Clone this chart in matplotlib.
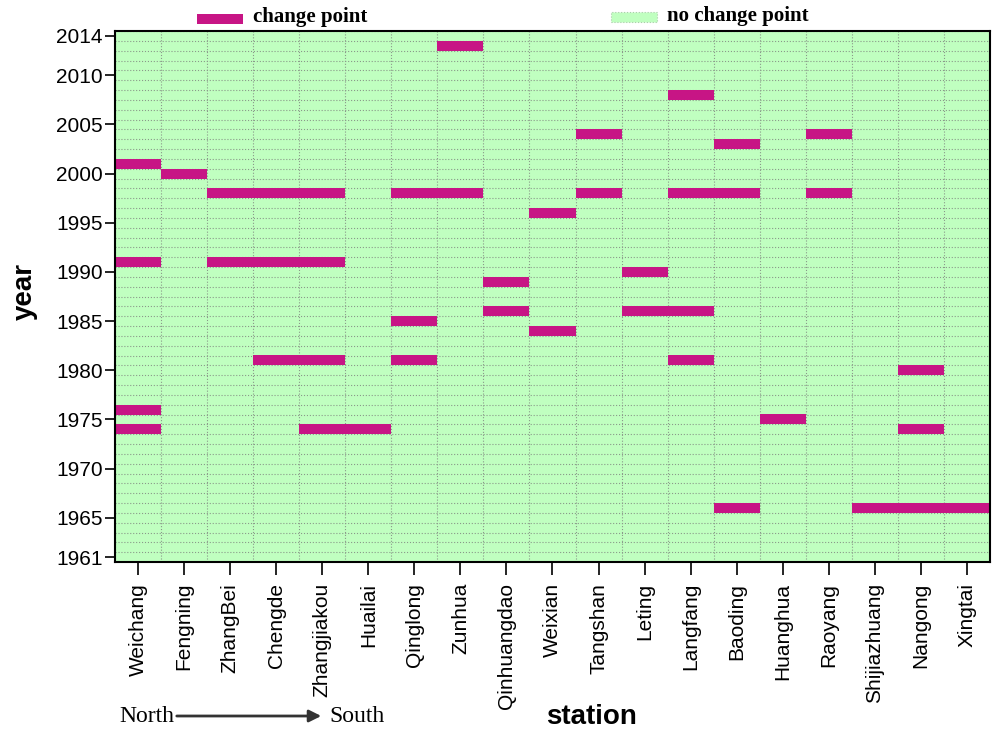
import numpy as np
import matplotlib
matplotlib.use("Agg")
import matplotlib.pyplot as plt
from matplotlib.patches import Rectangle

# stations ordered north -> south
stations = ['Weichang', 'Fengning', 'ZhangBei', 'Chengde', 'Zhangjiakou', 'Huailai',
            'Qinglong', 'Zunhua', 'Qinhuangdao', 'Weixian', 'Tangshan', 'Leting',
            'Langfang', 'Baoding', 'Huanghua', 'Raoyang', 'Shijiazhuang', 'Nangong', 'Xingtai']

# change point years for each station (same order as above)
change_years = [
    [2001, 1991, 1976, 1974],   # Weichang
    [2000],                     # Fengning
    [1998, 1991],               # ZhangBei
    [1998, 1991, 1981],         # Chengde
    [1998, 1991, 1981, 1974],   # Zhangjiakou
    [1974],                     # Huailai
    [1998, 1985, 1981],         # Qinglong
    [2013, 1998],               # Zunhua
    [1989, 1986],               # Qinhuangdao
    [1996, 1984],               # Weixian
    [2004, 1998],               # Tangshan
    [1990, 1986],               # Leting
    [2008, 1998, 1986, 1981],   # Langfang
    [2003, 1998, 1966],         # Baoding
    [1975],                     # Huanghua
    [2004, 1998],               # Raoyang
    [1966],                     # Shijiazhuang
    [1980, 1974, 1966],         # Nangong
    [1966],                     # Xingtai
]

year_start, year_end = 1961, 2014
year_ticks = [1961, 1965, 1970, 1975, 1980, 1985, 1990, 1995, 2000, 2005, 2010, 2014]

bar_color = '#C71585'
bg_color = '#C0FFC0'
W, H = 993, 729

plt.rcParams['font.family'] = ['Liberation Sans', 'DejaVu Sans']
fig = plt.figure(figsize=(W / 100, H / 100), dpi=100)
ax = fig.add_axes([115 / W, 1 - 562 / H, 875 / W, 531 / H])
ax.set_facecolor(bg_color)

# change point cells
for i, yrs in enumerate(change_years):
    for y in yrs:
        ax.bar(i, 1, bottom=y - 0.5, width=1, color=bar_color, zorder=2)

ax.set_xlim(-0.5, len(stations) - 0.5)
ax.set_ylim(year_start - 0.5, year_end + 0.5)

ax.set_xticks(np.arange(len(stations)))
ax.set_xticklabels(stations, rotation=90, fontsize=15)
ax.set_yticks(year_ticks)
ax.set_yticklabels([str(y) for y in year_ticks], fontsize=15)
ax.set_xticks(np.arange(len(stations) + 1) - 0.5, minor=True)
ax.set_yticks(np.arange(year_start, year_end + 2) - 0.5, minor=True)
ax.tick_params(which='minor', length=0)
ax.tick_params(axis='y', which='major', direction='out', length=7, width=1.2, pad=2)
ax.tick_params(axis='x', which='major', direction='out', length=9, width=1.2, pad=6)
ax.grid(which='minor', linestyle=':', color='#8a9a8a', linewidth=0.8, zorder=1)
ax.set_axisbelow(True)
for sp in ax.spines.values():
    sp.set_linewidth(1.5)

fig.text(25 / W, 1 - 292 / H, 'year', rotation=90, fontsize=20, fontweight='bold',
         ha='center', va='center')
fig.text(592 / W, 1 - 717 / H, 'station', fontsize=20, fontweight='bold',
         ha='center', va='center')

# legend
fig.patches.append(Rectangle((197 / W, 1 - 24 / H), 46 / W, 10 / H, transform=fig.transFigure,
                             facecolor=bar_color, edgecolor='none'))
fig.text(253 / W, 1 - 17 / H, 'change point', fontsize=15, fontweight='bold',
         family='Liberation Serif', va='center', ha='left')
fig.patches.append(Rectangle((611 / W, 1 - 22 / H), 46 / W, 10 / H, transform=fig.transFigure,
                             facecolor=bg_color, edgecolor='#aaccaa', linestyle=':', linewidth=0.8))
fig.text(667 / W, 1 - 16 / H, 'no change point', fontsize=15, fontweight='bold',
         family='Liberation Serif', va='center', ha='left')

# north -> south arrow
fig.text(119 / W, 1 - 716 / H, 'North', fontsize=17, family='Liberation Serif', va='center', ha='left')
fig.text(329 / W, 1 - 716 / H, 'South', fontsize=17, family='Liberation Serif', va='center', ha='left')
ax.annotate('', xy=(324 / W, 1 - 716 / H), xytext=(174 / W, 1 - 716 / H),
            xycoords='figure fraction', textcoords='figure fraction',
            arrowprops=dict(arrowstyle='-|>', color='#333333', lw=2, mutation_scale=18))

fig.savefig('out.png', dpi=100)
